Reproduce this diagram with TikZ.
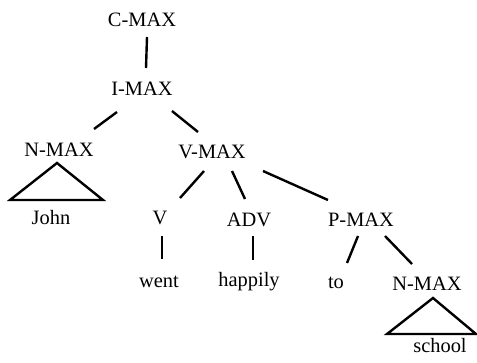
\documentclass[tikz,border=0pt]{standalone}
\usepackage{fontspec}
\setmainfont{Liberation Serif}
\begin{document}
\begin{tikzpicture}[x=1bp,y=-1bp,
  lbl/.style={anchor=base,inner sep=0pt,font=\fontsize{20.5}{24}\selectfont},
  edge/.style={line width=2.4bp}]
\useasboundingbox (0,0) rectangle (477,362);
\node[lbl] (cmax) at (142,26) {C-MAX};
\node[lbl] (imax) at (142,95) {I-MAX};
\node[lbl] (nmax) at (59,156) {N-MAX};
\node[lbl] (vmax) at (212,158) {V-MAX};
\node[lbl] (john) at (51,224) {John};
\node[lbl] (v) at (160,224) {V};
\node[lbl] (adv) at (249,226) {ADV};
\node[lbl] (pmax) at (361,226) {P-MAX};
\node[lbl] (went) at (159,287) {went};
\node[lbl] (happily) at (249,286) {happily};
\node[lbl] (to) at (336,288) {to};
\node[lbl] (nmax2) at (427,290) {N-MAX};
\node[lbl] (school) at (440,352) {school};
% connectors
\coordinate (c1) at (147,37); \coordinate (c2) at (146,68);
\draw[edge] (c1) -- (c2);
\coordinate (i1) at (117,112); \coordinate (i2) at (94,129);
\draw[edge] (i1) -- (i2);
\coordinate (i3) at (172,111); \coordinate (i4) at (198,132);
\draw[edge] (i3) -- (i4);
\coordinate (v1) at (204,171); \coordinate (v2) at (180,198);
\draw[edge] (v1) -- (v2);
\coordinate (v3) at (232,171); \coordinate (v4) at (245,199);
\draw[edge] (v3) -- (v4);
\coordinate (v5) at (263,171); \coordinate (v6) at (328,200);
\draw[edge] (v5) -- (v6);
\coordinate (w1) at (162,236); \coordinate (w2) at (162,259);
\draw[edge] (w1) -- (w2);
\coordinate (a1) at (253,236); \coordinate (a2) at (253,260);
\draw[edge] (a1) -- (a2);
\coordinate (p1) at (358,236); \coordinate (p2) at (347,263);
\draw[edge] (p1) -- (p2);
\coordinate (p3) at (385,236); \coordinate (p4) at (412,264);
\draw[edge] (p3) -- (p4);
% triangles
\coordinate (t1) at (57,163); \coordinate (t2) at (10,200); \coordinate (t3) at (103,200);
\draw[edge,line join=miter] (t1) -- (t2) -- (t3) -- cycle;
\coordinate (s1) at (433,298); \coordinate (s2) at (387,334); \coordinate (s3) at (476,334);
\draw[edge,line join=miter] (s1) -- (s2) -- (s3) -- cycle;
\end{tikzpicture}
\end{document}
